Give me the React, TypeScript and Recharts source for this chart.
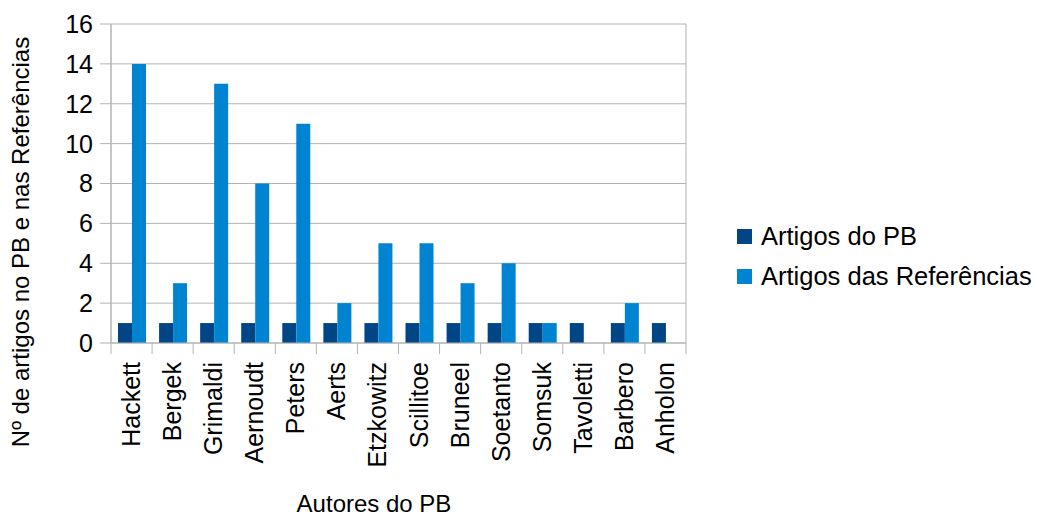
import * as React from 'react';
import { BarChart, Bar, XAxis, YAxis, CartesianGrid, Legend, Label } from 'recharts';

const authors = [
  'Hackett', 'Bergek', 'Grimaldi', 'Aernoudt', 'Peters', 'Aerts', 'Etzkowitz',
  'Scillitoe', 'Bruneel', 'Soetanto', 'Somsuk', 'Tavoletti', 'Barbero', 'Anholon',
];
const artigosPB = [1, 1, 1, 1, 1, 1, 1, 1, 1, 1, 1, 1, 1, 1];
const artigosRef = [14, 3, 13, 8, 11, 2, 5, 5, 3, 4, 1, 0, 2, 0];
const yTicks = [0, 2, 4, 6, 8, 10, 12, 14, 16];
const seriesNames = ['Artigos do PB', 'Artigos das Referências'];
const colors = ['#004586', '#0084d1'];

const FONT = '"Liberation Sans", Arial, sans-serif';
const GRID = '#b3b3b3';

// note: "ref" can't be used as a key here, recharts spreads entries onto elements
const data = authors.map((name, i) => ({ name, pb: artigosPB[i], referencias: artigosRef[i] }));

// category labels plus the tick marks between categories (LibreOffice style)
function AuthorTick(props: any) {
  const { x, y, payload, index } = props;
  const half = payload.offset || 0;
  const last = index === authors.length - 1;
  return (
    <g>
      <line x1={x - half} x2={x - half} y1={y} y2={y + 11} stroke={GRID} />
      {last && <line x1={x + half} x2={x + half} y1={y} y2={y + 11} stroke={GRID} />}
      <g transform={`translate(${x},${y + 19}) rotate(-90)`}>
        <text x={0} y={0} dy={8.5} textAnchor="end" fontSize={25} fill="#000" fontFamily={FONT}>
          {payload.value}
        </text>
      </g>
    </g>
  );
}

function LegendBox() {
  return (
    <div style={{ fontFamily: FONT, fontSize: 25.5, color: '#000', paddingLeft: 51 }}>
      {seriesNames.map((n, i) => (
        <div key={n} style={{ display: 'flex', alignItems: 'center', height: 40 }}>
          <span style={{ width: 15, height: 15, background: colors[i], marginRight: 9, flex: 'none' }} />
          <span style={{ whiteSpace: 'nowrap' }}>{n}</span>
        </div>
      ))}
    </div>
  );
}

export default function App() {
  return (
    <div style={{ position: 'absolute', left: 0, top: 0 }}>
      <BarChart
        width={1037}
        height={518}
        data={data}
        margin={{ top: 24, right: 0, bottom: 0, left: 0 }}
        barGap={0}
      >
        <CartesianGrid
          stroke={GRID}
          vertical={true}
          verticalCoordinatesGenerator={({ offset }: any) => [offset.left, offset.left + offset.width]}
        />
        <XAxis
          dataKey="name"
          height={175}
          interval={0}
          tickLine={false}
          tickSize={0}
          tickMargin={0}
          axisLine={{ stroke: GRID }}
          tick={<AuthorTick />}
        >
          <Label
            content={() => (
              <text x={374} y={512} textAnchor="middle" fontSize={24} fill="#000" fontFamily={FONT}>
                Autores do PB
              </text>
            )}
          />
        </XAxis>
        <YAxis
          width={111}
          domain={[0, 16]}
          ticks={yTicks}
          tickSize={11}
          tickMargin={7}
          tickLine={{ stroke: GRID }}
          axisLine={{ stroke: GRID }}
          tick={{ fontSize: 25, fill: '#000', fontFamily: FONT }}
        >
          <Label
            content={() => (
              <text
                transform="translate(29,242) rotate(-90)"
                textAnchor="middle"
                fontSize={24}
                fill="#000"
                fontFamily={FONT}
              >
                Nº de artigos no PB e nas Referências
              </text>
            )}
          />
        </YAxis>
        <Legend
          layout="vertical"
          align="right"
          verticalAlign="middle"
          content={<LegendBox />}
          wrapperStyle={{ left: 686, top: 216.5, width: 351 }}
        />
        <Bar dataKey="pb" name={seriesNames[0]} fill={colors[0]} barSize={14} isAnimationActive={false} />
        <Bar dataKey="referencias" name={seriesNames[1]} fill={colors[1]} barSize={14} isAnimationActive={false} />
      </BarChart>
    </div>
  );
}
